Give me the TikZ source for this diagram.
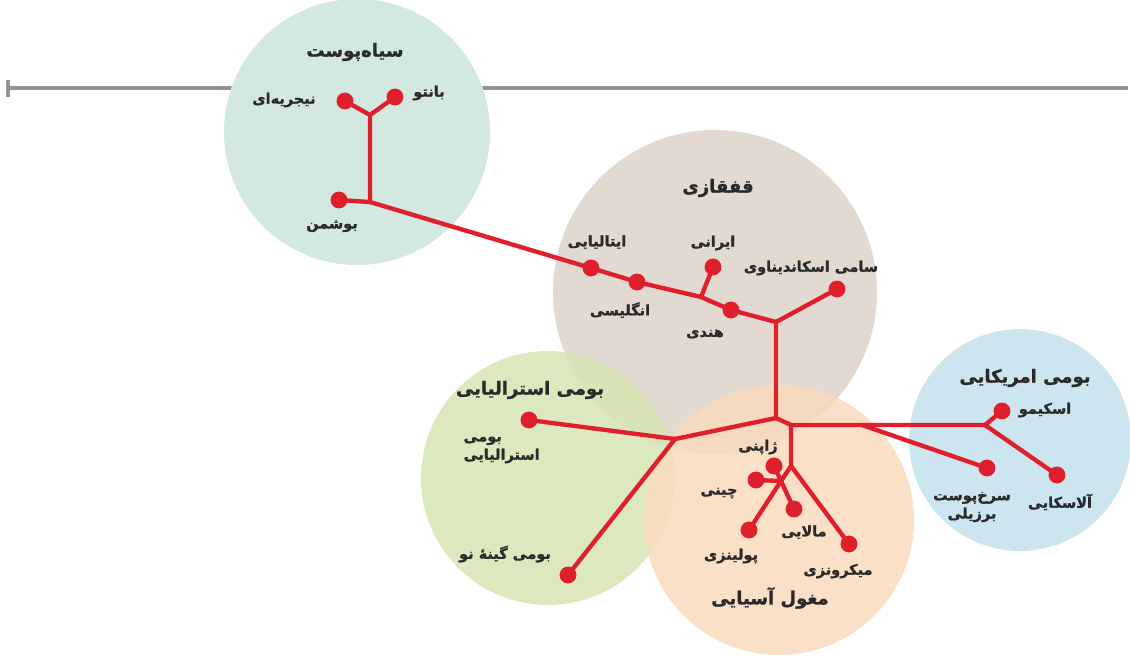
\documentclass[tikz,border=0pt]{standalone}
\usepackage{fontspec}
\newfontfamily\fa[Script=Arabic,FakeBold=1.2]{DejaVu Sans}
\TeXXeTstate=1
\definecolor{tred}{HTML}{E01F2C}
\definecolor{tgray}{HTML}{939393}
\definecolor{txt}{HTML}{2A2A2A}
\definecolor{cteal}{HTML}{D3E8DE}
\definecolor{cbeige}{HTML}{E2DAD1}
\definecolor{cgreen}{HTML}{D7E6B3}
\definecolor{corange}{HTML}{FADBBD}
\definecolor{cblue}{HTML}{CCE5EE}
\newcommand{\RL}[1]{\beginR #1\endR}
\begin{document}
\begin{tikzpicture}[x=0.025cm,y=-0.025cm,
  dot/.style={circle,fill=tred,inner sep=0pt,minimum size=12pt},
  br/.style={draw=tred,line width=3.1pt,line join=round,line cap=round},
  lab/.style={font=\fa\bfseries\fontsize{10.3}{13}\selectfont,text=txt,inner sep=1pt,align=center},
  ttl/.style={font=\fa\bfseries\fontsize{12.8}{15}\selectfont,text=txt,inner sep=1pt},
  blob/.style={fill opacity=0.85}]
\useasboundingbox (0,0) rectangle (1130,660);
% gray axis
\coordinate (g0) at (8,88);
\coordinate (g1) at (1128,88);
\coordinate (t0) at (8,80);
\coordinate (t1) at (8,97);
\draw[tgray,line width=2.2pt] (g0) -- (g1);
\draw[tgray,line width=2.2pt] (t0) -- (t1);
% circles
\fill[white] (715,292) circle (162);
\fill[white] (548,478) circle (127);
\fill[white] (779,520) circle (135);
\fill[white] (1020,440) circle (111);
\fill[white] (357,132) circle (133);
\fill[cbeige] (715,292) circle (162);
\fill[cgreen,blob] (548,478) circle (127);
\fill[corange,blob] (779,520) circle (135);
\fill[cblue] (1020,440) circle (111);
\fill[cteal] (357,132) circle (133);
% junctions
\coordinate (J1) at (370,115);
\coordinate (J2) at (370,202);
\coordinate (J3) at (701,297);
\coordinate (J4) at (776,322);
\coordinate (J5) at (776,418);
\coordinate (J6) at (675,439);
\coordinate (J7) at (791,425);
\coordinate (J8) at (862,425);
\coordinate (J9) at (985,425);
\coordinate (J10) at (791,466);
\coordinate (J11) at (781,481);
% dots
\node[dot] (nig) at (345,101) {};
\node[dot] (ban) at (395,97) {};
\node[dot] (bus) at (339,200) {};
\node[dot] (ita) at (591,268) {};
\node[dot] (eng) at (637,282) {};
\node[dot] (ira) at (713,267) {};
\node[dot] (hin) at (731,310) {};
\node[dot] (sam) at (837,289) {};
\node[dot] (aus) at (529,420) {};
\node[dot] (png) at (568,575) {};
\node[dot] (jap) at (774,466) {};
\node[dot] (chi) at (756,480) {};
\node[dot] (mal) at (794,509) {};
\node[dot] (pol) at (749,530) {};
\node[dot] (mic) at (849,544) {};
\node[dot] (esk) at (1002,411) {};
\node[dot] (ala) at (1057,475) {};
\node[dot] (bra) at (987,468) {};
% branches
\draw[br] (nig.center) -- (J1) -- (ban.center);
\draw[br] (J1) -- (J2) -- (bus.center);
\draw[br] (J2) -- (ita.center) -- (eng.center) -- (J3) -- (hin.center) -- (J4);
\draw[br] (J3) -- (ira.center);
\draw[br] (J4) -- (sam.center);
\draw[br] (J4) -- (J5) -- (J6);
\draw[br] (J6) -- (aus.center);
\draw[br] (J6) -- (png.center);
\draw[br] (J5) -- (J7) -- (J8) -- (J9);
\draw[br] (J9) -- (esk.center);
\draw[br] (J9) -- (ala.center);
\draw[br] (J8) -- (bra.center);
\draw[br] (J7) -- (J10) -- (mic.center);
\draw[br] (J10) -- (J11) -- (pol.center);
\draw[br] (J11) -- (mal.center);
\draw[br] (J11) -- (jap.center);
\draw[br] (J11) -- (chi.center);
% titles
\node[ttl] (tblack) at (355,52) {\RL{سیاه‌پوست}};
\node[ttl] (tcau) at (718,188) {\RL{قفقازی}};
\node[ttl] (taus) at (530,390) {\RL{بومی استرالیایی}};
\node[ttl] (tmon) at (770,598) {\RL{مغول آسیایی}};
\node[ttl] (tame) at (1025,378) {\RL{بومی امریکایی}};
% labels
\node[lab] (lnig) at (284,100) {\RL{نیجریه‌ای}};
\node[lab] (lban) at (429,93) {\RL{بانتو}};
\node[lab] (lbus) at (332,226) {\RL{بوشمن}};
\node[lab] (lita) at (597,242) {\RL{ایتالیایی}};
\node[lab] (lira) at (713,243) {\RL{ایرانی}};
\node[lab] (lsam) at (811,268) {\RL{سامی اسکاندیناوی}};
\node[lab] (leng) at (620,310) {\RL{انگلیسی}};
\node[lab] (lhin) at (705,334) {\RL{هندی}};
\node[lab,align=left,anchor=west] (laus) at (462,450) {\RL{بومی}\\\RL{استرالیایی}};
\node[lab] (lpng) at (505,554) {\RL{بومی گینهٔ نو}};
\node[lab] (ljap) at (758,447) {\RL{ژاپنی}};
\node[lab] (lchi) at (719,493) {\RL{چینی}};
\node[lab] (lmal) at (804,532) {\RL{مالایی}};
\node[lab] (lpol) at (731,556) {\RL{پولینزی}};
\node[lab] (lmic) at (838,571) {\RL{میکرونزی}};
\node[lab] (lesk) at (1045,410) {\RL{اسکیمو}};
\node[lab] (lbra) at (972,507) {\RL{سرخ‌پوست}\\\RL{برزیلی}};
\node[lab] (lala) at (1060,502) {\RL{آلاسکایی}};
\end{tikzpicture}
\end{document}
